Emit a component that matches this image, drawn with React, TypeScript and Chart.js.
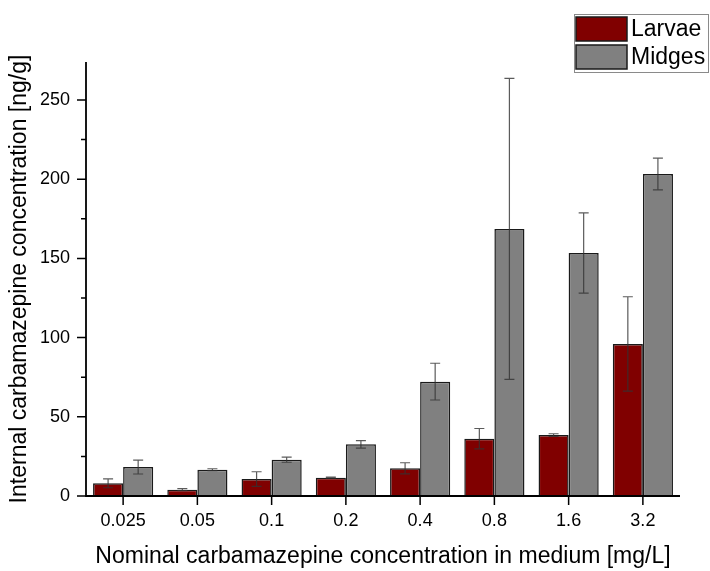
import React, { useEffect, useRef } from "react";
import { Chart, registerables } from "chart.js";

Chart.register(...registerables);

const categories = ["0.025", "0.05", "0.1", "0.2", "0.4", "0.8", "1.6", "3.2"];
const larvae = [8, 4, 10.7, 11.6, 17.5, 36.2, 38.5, 96];
const larvaeErr = [2.8, 0.6, 4.6, 0.3, 3.5, 6.4, 0.8, 29.8];
const midges = [18.3, 16.6, 22.9, 32.6, 72.2, 168.6, 153.4, 203.3];
const midgesErr = [4.4, 0.6, 1.6, 2.4, 11.6, 95, 25.3, 10];
const yMajorTicks = [0, 50, 100, 150, 200, 250];
const yMinorTicks = [25, 75, 125, 175, 225];
const seriesNames = ["Larvae", "Midges"];
const seriesColors = ["#800000", "#808080"];

const FONT = "'Liberation Sans', Arial, sans-serif";

const extrasPlugin = {
  id: "extras",
  afterDatasetsDraw(chart: any) {
    const ctx = chart.ctx;
    const y = chart.scales.y;
    const x = chart.scales.x;
    const area = chart.chartArea;
    const errs = [larvaeErr, midgesErr];
    const vals = [larvae, midges];
    ctx.save();
    // error bars
    ctx.strokeStyle = "rgba(50,50,50,0.8)";
    ctx.lineWidth = 1.2;
    for (let d = 0; d < 2; d++) {
      const meta = chart.getDatasetMeta(d);
      meta.data.forEach((el: any, i: number) => {
        const v = vals[d][i];
        const e = errs[d][i];
        const yt = y.getPixelForValue(v + e);
        const yb = y.getPixelForValue(v - e);
        const cx = el.x;
        ctx.beginPath();
        ctx.moveTo(cx, yt);
        ctx.lineTo(cx, yb);
        ctx.moveTo(cx - 5, yt);
        ctx.lineTo(cx + 5, yt);
        ctx.moveTo(cx - 5, yb);
        ctx.lineTo(cx + 5, yb);
        ctx.stroke();
      });
    }
    // axes
    ctx.strokeStyle = "#000";
    ctx.lineWidth = 1.8;
    ctx.beginPath();
    ctx.moveTo(area.left, area.top);
    ctx.lineTo(area.left, area.bottom);
    ctx.lineTo(area.right, area.bottom);
    ctx.stroke();
    ctx.lineWidth = 1.5;
    ctx.beginPath();
    yMajorTicks.forEach((t) => {
      const py = y.getPixelForValue(t);
      ctx.moveTo(area.left - 9, py);
      ctx.lineTo(area.left, py);
    });
    yMinorTicks.forEach((t) => {
      const py = y.getPixelForValue(t);
      ctx.moveTo(area.left - 5, py);
      ctx.lineTo(area.left, py);
    });
    categories.forEach((_c, i) => {
      const px = x.getPixelForValue(i);
      ctx.moveTo(px, area.bottom);
      ctx.lineTo(px, area.bottom + 9);
    });
    ctx.stroke();
    ctx.restore();
  },
  afterDraw(chart: any) {
    const ctx = chart.ctx;
    ctx.save();
    const bx = 574.5, by = 14.5, bw = 134, bh = 58;
    ctx.fillStyle = "#fff";
    ctx.fillRect(bx, by, bw, bh);
    ctx.strokeStyle = "#8a8a8a";
    ctx.lineWidth = 1;
    ctx.strokeRect(bx, by, bw, bh);
    ctx.font = "23px " + FONT;
    ctx.textBaseline = "middle";
    ctx.textAlign = "left";
    for (let i = 0; i < 2; i++) {
      const sy = 17 + i * 28;
      ctx.fillStyle = seriesColors[i];
      ctx.fillRect(576, sy, 51, 24);
      ctx.strokeStyle = "#1a1a1a";
      ctx.lineWidth = 1.5;
      ctx.strokeRect(576, sy, 51, 24);
      ctx.fillStyle = "#000";
      ctx.fillText(seriesNames[i], 631, sy + 12.5);
    }
    ctx.restore();
  },
};

export default function App() {
  const ref = useRef<HTMLCanvasElement | null>(null);
  useEffect(() => {
    if (!ref.current) return;
    const chart = new Chart(ref.current, {
      type: "bar",
      data: {
        labels: categories,
        datasets: [
          {
            label: seriesNames[0],
            data: larvae,
            backgroundColor: seriesColors[0],
            borderColor: "#1a1a1a",
            borderWidth: 1.5,
            categoryPercentage: 0.81,
            barPercentage: 1,
          },
          {
            label: seriesNames[1],
            data: midges,
            backgroundColor: seriesColors[1],
            borderColor: "#1a1a1a",
            borderWidth: 1.5,
            categoryPercentage: 0.81,
            barPercentage: 1,
          },
        ],
      },
      options: {
        animation: false,
        responsive: true,
        maintainAspectRatio: false,
        layout: { padding: { top: 62, right: 30, left: 0, bottom: 0 } },
        plugins: { legend: { display: false }, tooltip: { enabled: false } },
        scales: {
          x: {
            offset: true,
            grid: { display: false, drawTicks: false },
            border: { display: false },
            ticks: { color: "#000", font: { family: FONT, size: 18 }, padding: 14 },
            title: {
              display: true,
              text: "Nominal carbamazepine concentration in medium [mg/L]",
              color: "#000",
              font: { family: FONT, size: 23 },
              padding: { top: 0, bottom: 1 },
            },
            afterFit: (s: any) => {
              s.height = 75;
            },
          },
          y: {
            min: 0,
            max: 274,
            grid: { display: false, drawTicks: false },
            border: { display: false },
            ticks: {
              stepSize: 50,
              includeBounds: false,
              color: "#000",
              font: { family: FONT, size: 18 },
              padding: 16,
            },
            title: {
              display: true,
              text: "Internal carbamazepine concentration [ng/g]",
              color: "#000",
              font: { family: FONT, size: 23 },
              padding: { top: 6, bottom: 0 },
            },
            afterFit: (s: any) => {
              s.width = 86;
            },
          },
        },
      },
      plugins: [extrasPlugin],
    });
    return () => chart.destroy();
  }, []);
  return (
    <div style={{ position: "fixed", left: 0, top: 0, width: 710, height: 571, background: "#fff" }}>
      <canvas ref={ref} />
    </div>
  );
}
